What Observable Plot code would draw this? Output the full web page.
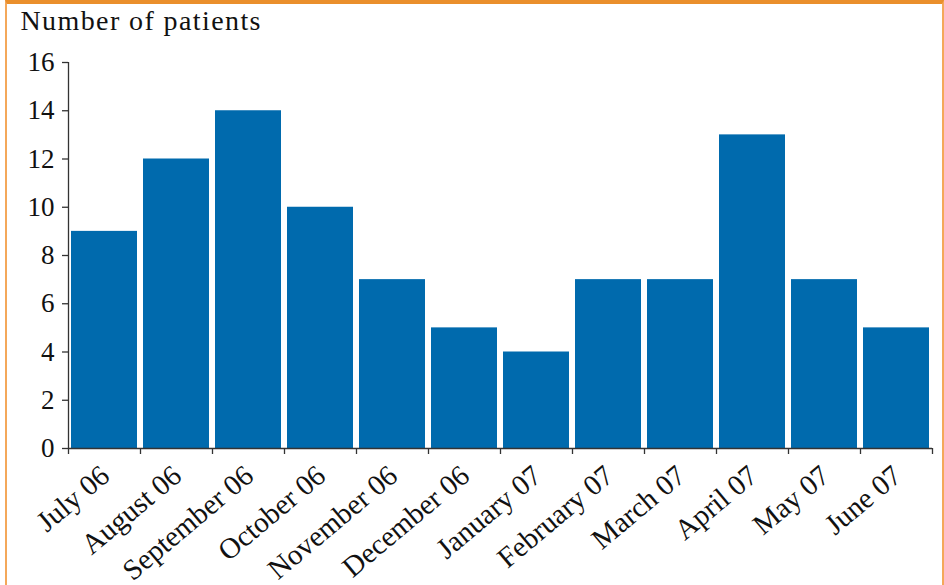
<!DOCTYPE html>
<html>
<head>
<meta charset="utf-8">
<script src="https://cdn.jsdelivr.net/npm/d3@7"></script>
<script src="https://cdn.jsdelivr.net/npm/@observablehq/plot@0.6"></script>
<style>
  html, body { margin: 0; padding: 0; background: #ffffff; }
  #wrap { position: relative; width: 944px; height: 585px; overflow: hidden; }
  #border { position: absolute; left: 5px; top: 0; width: 935px; height: 600px;
            border-top: 4px solid #ea8f2c; border-left: 2px solid #f4a85a; border-right: 2px solid #f4a85a; pointer-events: none; }
  svg { display: block; }
</style>
</head>
<body>
<div id="wrap"><div id="border"></div></div>
<script>
const months = ["July 06", "August 06", "September 06", "October 06", "November 06", "December 06",
                "January 07", "February 07", "March 07", "April 07", "May 07", "June 07"];
const counts = [9, 12, 14, 10, 7, 5, 4, 7, 7, 13, 7, 5];
const yTicks = [0, 2, 4, 6, 8, 10, 12, 14, 16];
const title = "Number of patients";

const data = months.map((m, i) => ({month: m, i, count: counts[i]}));
const font = "'Liberation Serif', 'Times New Roman', serif";

const chart = Plot.plot({
  width: 944,
  height: 585,
  marginLeft: 68,
  marginRight: 12,
  marginTop: 62,
  marginBottom: 137,
  style: {fontFamily: font, background: "transparent", color: "#111"},
  x: {domain: [0, months.length], axis: null},
  y: {domain: [0, 16], axis: null},
  marks: [
    Plot.rectY(data, {x1: "i", x2: d => d.i + 1, y: "count", fill: "#006aad", insetLeft: 3, insetRight: 3}),
    Plot.axisY({ticks: yTicks, tickSize: 6, tickPadding: 8, fontSize: 27, label: null, stroke: "#333", strokeWidth: 1.3, fill: "#111", ariaLabel: "y-axis labels"}),
    Plot.axisX({ticks: d3.range(months.length + 1), tickSize: 6, tickFormat: () => "", label: null, stroke: "#333", strokeWidth: 1.3}),
    Plot.ruleX([0], {y1: 0, y2: 16, stroke: "#333", strokeWidth: 1.3}),
    Plot.ruleY([0], {stroke: "#333", strokeWidth: 1.5}),
    Plot.text(data, {x: d => d.i + 0.5, y: 0, text: "month", rotate: -40, textAnchor: "end",
                     dx: 1, dy: 23, fontSize: 29, fill: "#111", ariaLabel: "month labels"}),
    Plot.text([title], {frameAnchor: "top-left", dx: -48, dy: -52, text: d => d, textAnchor: "start",
                        lineAnchor: "top", fontSize: 28, fill: "#111"})
  ]
});
d3.select(chart).selectAll('g[aria-label="month labels"] text').style("letter-spacing", "2.3px");
d3.select(chart).selectAll("text").filter(function () { return this.textContent === title; })
  .style("letter-spacing", "1.4px");
d3.select(chart).selectAll('g[aria-label="y-axis labels"] text').style("letter-spacing", "1.5px");
document.getElementById("wrap").prepend(chart);
</script>
</body>
</html>
